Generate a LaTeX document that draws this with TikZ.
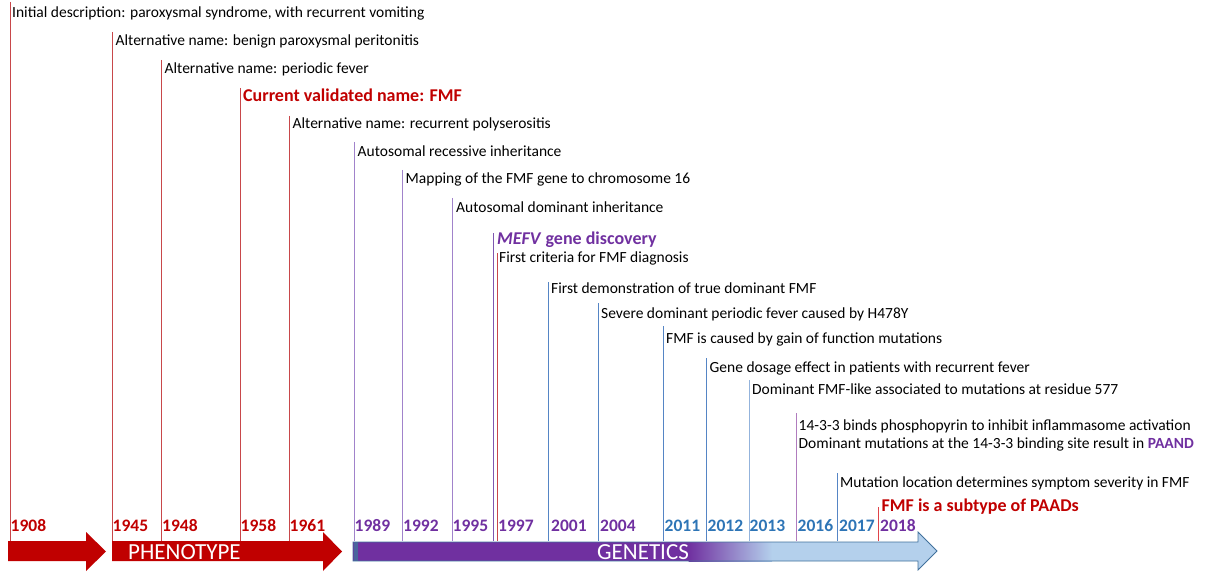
\documentclass[tikz,border=0pt]{standalone}
\usepackage{fontspec}
\setmainfont{Carlito}
\definecolor{phred}{HTML}{C00000}
\definecolor{purp}{HTML}{7030A0}
\definecolor{yrblue}{HTML}{2E75B6}
\definecolor{genlight}{HTML}{B4D0EC}
\definecolor{genedge}{HTML}{41719C}
\definecolor{lnred}{HTML}{C8474A}
\definecolor{lnlav}{HTML}{A183CB}
\definecolor{lnpurp}{HTML}{7E57B0}
\definecolor{lnblue}{HTML}{5585C5}
\definecolor{lnlblue}{HTML}{93B3DC}
\definecolor{lnpink}{HTML}{B07CBE}
\definecolor{lnbright}{HTML}{E0444A}
\tikzset{
  vline/.style={line width=0.9pt},
  evt/.style={anchor=base west, inner sep=0pt, font=\fontsize{15.5}{18}\selectfont},
  hl/.style={anchor=base west, inner sep=0pt, font=\fontsize{18}{21}\selectfont\bfseries},
  yr/.style={anchor=base west, inner sep=0pt, font=\fontsize{17.5}{20}\selectfont\bfseries},
  big/.style={anchor=base west, inner sep=0pt, text=white, font=\fontsize{23}{26}\selectfont}
}
\begin{document}
\begin{tikzpicture}[x=1pt,y=-1pt]
\useasboundingbox (0,0) rectangle (1207,572);
\coordinate (base) at (0,541);
% ---- arrows ----
\fill[phred] (8,541) -- (86,541) -- (86,532) -- (106,551.5) -- (86,571) -- (86,561) -- (8,561) -- cycle;
\fill[phred] (112,541) -- (323,541) -- (323,532) -- (342,551.5) -- (323,571) -- (323,561) -- (112,561) -- cycle;
\fill[genlight] (353,542) -- (918,542) -- (918,532) -- (937,551) -- (918,570) -- (918,561) -- (353,561) -- cycle;
\fill[purp] (353,542) rectangle (689,561);
\shade[left color=purp, right color=genlight] (688.5,542) rectangle (772,561);
\fill[genedge!80!purp] (354,542) rectangle (357.5,561);
\draw[genedge, line width=0.8pt] (353,542) -- (918,542) -- (918,532) -- (937,551) -- (918,570) -- (918,561) -- (353,561) -- cycle;
\node[big] (pheno) at (128,559) {PHENOTYPE};
\node[big] (genet) at (597,559) {GENETICS};
% ---- timeline marks ----
\coordinate (t1908) at (10,2);
\coordinate (t1945) at (112,32);
\coordinate (t1948) at (161,60);
\coordinate (t1958) at (240,88);
\coordinate (t1961) at (289,116);
\coordinate (t1989) at (354,142);
\coordinate (t1992) at (402,170);
\coordinate (t1995) at (452,198);
\coordinate (t1997a) at (493,233);
\coordinate (t1997b) at (497,253);
\coordinate (t2001) at (548,282);
\coordinate (t2004) at (598,303);
\coordinate (t2011) at (663,326);
\coordinate (t2012) at (706,358);
\coordinate (t2013) at (749,380);
\coordinate (t2016) at (796,413);
\coordinate (t2017) at (837,473);
\coordinate (t2018) at (878,507);
\foreach \t in {1908,1945,1948,1958,1961}
  \draw[vline, lnred] (t\t) -- (t\t |- base);
\foreach \t in {1989,1992,1995}
  \draw[vline, lnlav] (t\t) -- (t\t |- base);
\draw[vline, lnpurp] (t1997a) -- (t1997a |- base);
\draw[vline, lnred] (t1997b) -- (t1997b |- base);
\foreach \t in {2001,2004,2011,2012,2017}
  \draw[vline, lnblue] (t\t) -- (t\t |- base);
\draw[vline, lnlblue] (t2013) -- (t2013 |- base);
\draw[vline, lnpink] (t2016) -- (t2016 |- base);
\draw[vline, lnbright] (t2018) -- (t2018 |- base);
% ---- events ----
\node[evt] (e1908) at (12,18) {Initial description: paroxysmal syndrome, with recurrent vomiting};
\node[evt] (e1945) at (115.5,46) {Alternative name: benign paroxysmal peritonitis};
\node[evt] (e1948) at (164.5,74) {Alternative name: periodic fever};
\node[hl, text=phred] (e1958) at (243,102) {Current validated name: FMF};
\node[evt] (e1961) at (292.5,129) {Alternative name: recurrent polyserositis};
\node[evt] (e1989) at (357.5,157) {Autosomal recessive inheritance};
\node[evt] (e1992) at (405.5,184) {Mapping of the FMF gene to chromosome 16};
\node[evt] (e1995) at (456,213) {Autosomal dominant inheritance};
\node[hl, text=purp] (e1997a) at (497,244) {\itshape MEFV\/\upshape{} gene discovery};
\node[evt] (e1997b) at (499,262) {First criteria for FMF diagnosis};
\node[evt] (e2001) at (551,293) {First demonstration of true dominant FMF};
\node[evt] (e2004) at (601,318) {Severe dominant periodic fever caused by H478Y};
\node[evt] (e2011) at (666,343) {FMF is caused by gain of function mutations};
\node[evt] (e2012) at (709.5,372) {Gene dosage effect in patients with recurrent fever};
\node[evt] (e2013) at (752,394) {Dominant FMF-like associated to mutations at residue 577};
\node[evt] (e2016a) at (798.5,430) {14-3-3 binds phosphopyrin to inhibit inflammasome activation};
\node[evt] (e2016b) at (798.5,448) {Dominant mutations at the 14-3-3 binding site result in \textcolor{purp}{\bfseries PAAND}};
\node[evt] (e2017) at (840,487) {Mutation location determines symptom severity in FMF};
\node[hl, text=phred] (e2018) at (881.5,511) {FMF is a subtype of PAADs};
% ---- years ----
\node[yr, text=phred] (y1908) at (10.5,531) {1908};
\node[yr, text=phred] (y1945) at (112.5,531) {1945};
\node[yr, text=phred] (y1948) at (162,531) {1948};
\node[yr, text=phred] (y1958) at (240.5,531) {1958};
\node[yr, text=phred] (y1961) at (289.5,531) {1961};
\node[yr, text=purp] (y1989) at (354.5,531) {1989};
\node[yr, text=purp] (y1992) at (403,531) {1992};
\node[yr, text=purp] (y1995) at (452.5,531) {1995};
\node[yr, text=purp] (y1997) at (498,531) {1997};
\node[yr, text=purp] (y2001) at (551,531) {2001};
\node[yr, text=purp] (y2004) at (600,531) {2004};
\node[yr, text=yrblue] (y2011) at (664.5,531) {2011};
\node[yr, text=yrblue] (y2012) at (707.5,531) {2012};
\node[yr, text=yrblue] (y2013) at (749.5,531) {2013};
\node[yr, text=yrblue] (y2016) at (797.5,531) {2016};
\node[yr, text=yrblue] (y2017) at (839,531) {2017};
\node[yr, text=purp] (y2018) at (880,531) {2018};
\end{tikzpicture}
\end{document}
